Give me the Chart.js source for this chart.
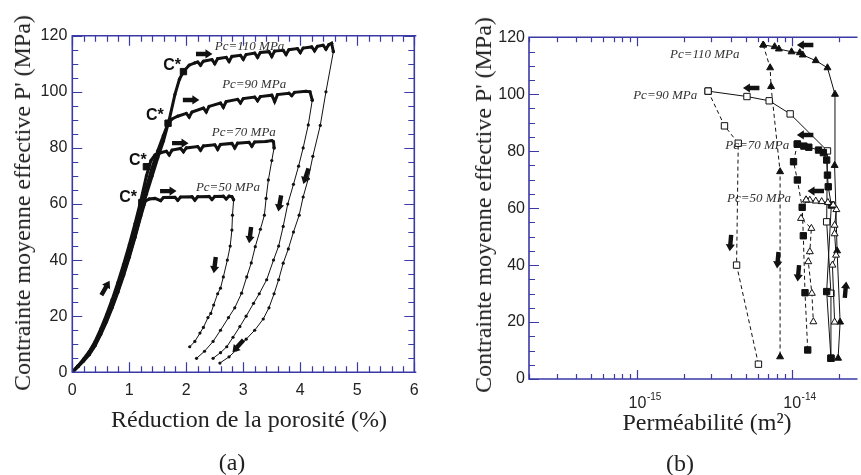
<!DOCTYPE html>
<html><head><meta charset="utf-8">
<script src="https://cdn.jsdelivr.net/npm/chart.js@4/dist/chart.umd.min.js"></script>
<style>
html,body{margin:0;padding:0;background:#fff;}
#wrap{position:relative;width:861px;height:475px;overflow:hidden;font-family:"Liberation Serif","Times New Roman",serif;color:#222;}
.cv{position:absolute;top:0;}
.t{position:absolute;white-space:nowrap;font-size:24px;line-height:1;transform:translate(-50%,-50%);}
.ty{transform:translate(-50%,-50%) rotate(-90deg);}
</style></head><body>
<div id="wrap">
<canvas id="ca" class="cv" width="430" height="475" style="left:0"></canvas>
<canvas id="cb" class="cv" width="431" height="475" style="left:430px"></canvas>
<div class="t ty" style="left:22px;top:203px">Contrainte moyenne effective P' (MPa)</div>
<div class="t ty" style="left:483px;top:205px">Contrainte moyenne effective P' (MPa)</div>
<div class="t" style="left:249px;top:419px">Réduction de la porosité (%)</div>
<div class="t" style="left:707px;top:422px">Perméabilité (m²)</div>
<div class="t" style="left:232px;top:462px">(a)</div>
<div class="t" style="left:680px;top:463px">(b)</div>
</div>
<script>
// ---------- Panel (a): porosity reduction (%) vs effective mean stress (MPa) ----------
const xTickValsA = [0,1,2,3,4,5,6];
const xTickLabelsA = ['0','1','2','3','4','5','6'];
const yTickVals = [0,20,40,60,80,100,120];
const yTickLabels = ['0','20','40','60','80','100','120'];

const porLoad50 = [0,0.1,0.2,0.3,0.4,0.5,0.6,0.7,0.8,0.9,1.0,1.1,1.2,1.28,1.35,1.45,1.55,1.6,1.8,1.85,1.9,2.1,2.15,2.2,2.4,2.45,2.5,2.65,2.7,2.75,2.8,2.83];
const strLoad50 = [0,2,4,6.3,9.5,13.5,18,23,28.5,34.5,41,48,55.5,61,61.8,62,61.2,62.3,62.4,61.3,62.5,62.6,61.4,62.6,62.7,61.6,62.7,62.8,61.8,62.8,62.6,61.5];
const porUnl50 = [2.83,2.81,2.80,2.77,2.72,2.65,2.60,2.55,2.48,2.43,2.38,2.30,2.24,2.15,2.06];
const strUnl50 = [61.5,56,50.7,45,40,34,30,28,24,21,19.5,16,14,11,9.1];

const porLoad70 = [0,0.1,0.2,0.3,0.4,0.5,0.6,0.7,0.8,0.9,1.0,1.1,1.2,1.3,1.38,1.45,1.55,1.65,1.7,1.75,1.9,1.95,2.0,2.2,2.25,2.3,2.5,2.55,2.6,2.8,2.85,2.9,3.1,3.15,3.2,3.4,3.5,3.53,3.54];
const strLoad70 = [0,2.3,4.8,7.5,11,15.5,20.5,26,32,38.5,45.5,53,61,70,75.5,77.5,78.3,78.8,77.5,79.2,79.8,78.6,80,80.5,79.2,80.7,81.1,79.5,81.2,81.6,80,81.7,82,80.6,82.1,82.3,82.6,82.2,80];
const porUnl70 = [3.54,3.50,3.44,3.40,3.37,3.30,3.21,3.14,3.06,2.97,2.85,2.74,2.60,2.47,2.32,2.18];
const strUnl70 = [80,75.5,68.6,62,56,51,44.8,39,34,28.2,23,19.5,15,11,7.5,5];

const porLoad90 = [0,0.1,0.2,0.3,0.4,0.5,0.6,0.7,0.8,0.9,1.0,1.1,1.2,1.3,1.4,1.5,1.6,1.68,1.75,1.85,2.0,2.05,2.1,2.3,2.35,2.4,2.6,2.65,2.7,2.9,2.95,3.0,3.2,3.25,3.3,3.5,3.55,3.6,3.8,3.85,3.9,4.1,4.17,4.21];
const strLoad90 = [0,2.2,4.6,7.2,10.5,14.8,19.6,25,31,37.5,44,51,58.5,66,73,79,84.5,88.8,90.3,91.3,92.3,91,92.8,94.2,92.8,94.8,96,94.5,96.5,97.3,96,97.6,98.1,96.8,98.3,98.8,96.5,99,99.5,98.6,99.8,100.2,100,97];
const porUnl90 = [4.21,4.14,4.05,3.97,3.88,3.78,3.70,3.62,3.53,3.41,3.28,3.18,3.05,2.94,2.82,2.71,2.60,2.47];
const strUnl90 = [97,88.2,80,73.5,67,60,52,45,40,33,28,24.6,20,16.3,12.5,9.1,7,5];

const porLoad110 = [0,0.1,0.2,0.3,0.4,0.5,0.6,0.7,0.8,0.9,1.0,1.1,1.2,1.3,1.4,1.5,1.6,1.7,1.8,1.88,1.95,2.05,2.15,2.2,2.25,2.3,2.45,2.5,2.55,2.7,2.75,2.8,2.95,3.0,3.05,3.2,3.25,3.3,3.45,3.5,3.55,3.7,3.75,3.8,3.95,4.0,4.05,4.2,4.25,4.3,4.4,4.45,4.5,4.55,4.58];
const strLoad110 = [0,2.1,4.4,6.9,10,14,18.5,23.5,29,35,41.5,48.5,56,63.5,70,76.5,82.5,90,99,104.5,107.2,109.5,110.3,110.6,109.5,110.9,111.5,110,111.8,112.3,110.8,112.6,113,111.6,113.3,113.8,112.3,114,114.3,112.6,114.5,114.8,113.3,115,115.4,114,115.6,116,114.6,116.2,116.6,115.2,116.8,117.3,114.3];
const porUnl110 = [4.58,4.45,4.35,4.22,4.14,4.05,3.98,3.88,3.79,3.70,3.62,3.54,3.45,3.35,3.20,3.05,2.88,2.75,2.59];
const strUnl110 = [114.3,100,88,77,69,62.5,56,50,44,38.9,33,28,23,19,15,11.8,8,5.5,3.3];

const cStarPor = [1.22,1.30,1.68,1.95];
const cStarStr = [60.5,73.3,88.8,107.2];
const cStarLabelX = [0.98,1.15,1.45,1.75];
const cStarLabelY = [62.2,75.4,91.4,109.2];

const pcLabels = ['Pc=110 MPa','Pc=90 MPa','Pc=70 MPa','Pc=50 MPa'];
const pcLabelXA = [3.11,3.19,3.01,2.73];
const pcLabelYA = [116.3,102.4,85.3,65.7];

const arrowXA = [2.31,2.08,1.89,1.68,2.50,3.12,3.64,4.10,2.91,0.58];
const arrowYA = [113.5,97.1,81.7,64.6,38.3,49,60.3,70,9.4,30];
const arrowDirA = [0,0,0,0,-97,-97,-100,-108,-132,60];

// ---------- Panel (b): permeability (m²) vs effective mean stress (MPa) ----------
const xTickValsB = [1e-15,1e-14];
const xTickBaseB = ['10','10'];
const xTickExpB = ['-15','-14'];

const kLoad110 = [1.98e-14,2.04e-14,1.95e-14,1.88e-14,1.89e-14,1.69e-14,1.42e-14,1.17e-14,1.12e-14,9.9e-15,8.2e-15,7.7e-15,6.5e-15];
const pLoad110 = [7.3,20,45,75,100,109.3,111.8,113.8,114.6,114.9,115.9,116.7,117.3];
const kUnl110 = [6.5e-15,7.2e-15,7.3e-15,8.35e-15,8.35e-15];
const pUnl110 = [117.3,109.3,102.7,72.8,7.8];
const kLoad90 = [1.78e-14,1.78e-14,1.67e-14,1.69e-14,9.7e-15,7.1e-15,5.1e-15,2.86e-15];
const pLoad90 = [7.3,30.1,55.2,80.1,93.1,97.7,99.2,101.1];
const kUnl90 = [2.86e-15,3.65e-15,4.48e-15,4.37e-15,6.05e-15];
const pUnl90 = [101.1,88.9,82.8,40,5.2];
const kLoad70 = [1.78e-14,1.67e-14,1.79e-14,1.71e-14,1.69e-14,1.67e-14,1.59e-14,1.48e-14,1.28e-14,1.19e-14,1.08e-14];
const pLoad70 = [7.3,30.7,61.1,67.5,71.6,76.9,79.5,80.4,81.4,81.8,82.5];
const kUnl70 = [1.08e-14,1.02e-14,1.08e-14,1.16e-14,1.18e-14,1.21e-14,1.26e-14];
const pUnl70 = [82.5,76.3,69.9,60.3,50.3,30.3,10.2];
const kLoad50 = [1.88e-14,1.82e-14,1.92e-14,1.88e-14,1.88e-14,1.93e-14,1.84e-14,1.7e-14,1.55e-14,1.42e-14,1.3e-14,1.23e-14];
const pLoad50 = [20,40,43.5,51,54,59.5,61.1,62,62.3,62.5,62.8,62.9];
const kUnl50 = [1.23e-14,1.14e-14,1.33e-14,1.30e-14,1.27e-14,1.34e-14,1.37e-14];
const pUnl50 = [62.9,56.4,52.9,44.7,41.2,30.1,20.1];

const pcLabelXB = [2.72e-15,1.51e-15,5.94e-15,6.11e-15];
const pcLabelYB = [114.1,99.7,82,63.4];

const arrowXB = [1.216e-14,5.45e-15,1.216e-14,1.425e-14,3.99e-15,8.07e-15,1.096e-14,2.21e-14];
const arrowYB = [117.3,102.2,85.7,66,47.8,41.8,37.2,31.3];
const arrowDirB = [180,180,180,180,-95,-95,-95,85];

// ---------- helpers ----------
const AXIS = '#3a3aa6';
const INK = '#111';
const TXT = '#222';
Chart.defaults.font.family = "'Liberation Sans', Arial, sans-serif";
Chart.defaults.color = TXT;

function zip(xs, ys){ return xs.map((v,i)=>({x:v, y:ys[i]})); }

function drawArrow(ctx, px, py, deg){
  ctx.save(); ctx.translate(px,py); ctx.rotate(-deg*Math.PI/180);
  ctx.fillStyle = INK; ctx.beginPath();
  ctx.moveTo(-8,-2.2); ctx.lineTo(1.5,-2.2); ctx.lineTo(1.5,-4.6); ctx.lineTo(8.5,0);
  ctx.lineTo(1.5,4.6); ctx.lineTo(1.5,2.2); ctx.lineTo(-8,2.2); ctx.closePath(); ctx.fill();
  ctx.restore();
}

function framePlugin(cfg){
  return {id:'frame', afterDatasetsDraw(chart){
    const {ctx, chartArea:a, scales:{x,y}} = chart;
    ctx.save(); ctx.strokeStyle = AXIS; ctx.lineWidth = 1.2; ctx.beginPath();
    for (const t of cfg.xTicks){
      const px = Math.round(x.getPixelForValue(t.v))+0.5;
      if (px < a.left-1 || px > a.right+1) continue;
      ctx.moveTo(px,a.bottom); ctx.lineTo(px,a.bottom-t.len);
      ctx.moveTo(px,a.top); ctx.lineTo(px,a.top+t.len);
    }
    for (const t of cfg.yTicks){
      const py = Math.round(y.getPixelForValue(t.v))+0.5;
      ctx.moveTo(a.left,py); ctx.lineTo(a.left+t.len,py);
      if (cfg.rightSide){ ctx.moveTo(a.right,py); ctx.lineTo(a.right-t.len,py); }
    }
    ctx.stroke();
    ctx.lineWidth = 1.6; ctx.beginPath();
    ctx.moveTo(a.right+2,a.top); ctx.lineTo(a.left,a.top); ctx.lineTo(a.left,a.bottom); ctx.lineTo(a.right+2,a.bottom);
    if (cfg.rightSide){ ctx.moveTo(a.right,a.top); ctx.lineTo(a.right,a.bottom); }
    ctx.stroke();
    ctx.restore();
  }};
}

function annotPlugin(cfg){
  return {id:'annot', afterDraw(chart){
    const {ctx, scales:{x,y}} = chart;
    ctx.save(); ctx.textAlign='center'; ctx.textBaseline='middle';
    for (const g of cfg.texts){
      ctx.font = g.font; ctx.fillStyle = g.color;
      g.labels.forEach((s,i)=>ctx.fillText(s, x.getPixelForValue(g.xs[i]), y.getPixelForValue(g.ys[i])));
    }
    cfg.arrows.xs.forEach((v,i)=>drawArrow(ctx, x.getPixelForValue(v), y.getPixelForValue(cfg.arrows.ys[i]), cfg.arrows.dirs[i]));
    if (cfg.logLabels){
      const L = cfg.logLabels;
      L.vals.forEach((v,i)=>{
        const px = x.getPixelForValue(v);
        const py = chart.chartArea.bottom + 25;
        ctx.font = "16px 'Liberation Sans', Arial, sans-serif"; ctx.fillStyle = TXT;
        ctx.textAlign='center'; ctx.fillText(L.base[i], px, py);
        const bw = ctx.measureText(L.base[i]).width;
        ctx.font = "10px 'Liberation Sans', Arial, sans-serif"; ctx.textAlign='left';
        ctx.fillText(L.exp[i], px + bw/2 + 0.5, py - 7);
      });
    }
    ctx.restore();
  }};
}

const baseOpts = {animation:false, responsive:false, devicePixelRatio:1, events:[],
  plugins:{legend:{display:false}, tooltip:{enabled:false}}};

// ---------- chart (a) ----------
const loadStyle = {showLine:true, borderColor:INK, backgroundColor:INK, borderWidth:3, pointRadius:1.6, pointBorderWidth:0, tension:0};
const unlStyle = {showLine:true, borderColor:INK, backgroundColor:INK, borderWidth:1, pointRadius:1.6, pointBorderWidth:0, tension:0};
const xMinorA = []; for (let i=0;i<=30;i++){ xMinorA.push({v:i*0.2, len:(i%5===0)?10:6}); }
const yMinorA = []; for (let i=0;i<=24;i++){ yMinorA.push({v:i*5, len:(i%4===0)?10:6}); }

new Chart(document.getElementById('ca'), {
  type:'scatter',
  data:{datasets:[
    {...loadStyle, data:zip(porLoad50,strLoad50)},
    {...unlStyle, data:zip(porUnl50,strUnl50)},
    {...loadStyle, data:zip(porLoad70,strLoad70)},
    {...unlStyle, data:zip(porUnl70,strUnl70)},
    {...loadStyle, data:zip(porLoad90,strLoad90)},
    {...unlStyle, data:zip(porUnl90,strUnl90)},
    {...loadStyle, data:zip(porLoad110,strLoad110)},
    {...unlStyle, data:zip(porUnl110,strUnl110)},
    {showLine:false, data:zip(cStarPor,cStarStr), pointStyle:'rect', pointRadius:4.5, backgroundColor:INK, borderColor:INK}
  ]},
  options:{...baseOpts,
    layout:{padding:{top:35.7,right:15.7,left:0,bottom:0}},
    scales:{
      x:{type:'linear', min:0, max:6,
         afterBuildTicks:s=>{s.ticks = xTickValsA.map(v=>({value:v}));},
         ticks:{font:{size:16}, color:TXT, padding:9, maxRotation:0, autoSkip:false, callback:(v,i)=>xTickLabelsA[i]},
         grid:{display:false, drawTicks:false}, border:{display:false},
         afterFit:s=>{s.height = 102.7;}},
      y:{type:'linear', min:0, max:120,
         afterBuildTicks:s=>{s.ticks = yTickVals.map(v=>({value:v}));},
         ticks:{font:{size:16}, color:TXT, padding:5, autoSkip:false, callback:(v,i)=>yTickLabels[i]},
         grid:{display:false, drawTicks:false}, border:{display:false},
         afterFit:s=>{s.width = 72.3;}}
    }
  },
  plugins:[framePlugin({xTicks:xMinorA, yTicks:yMinorA, rightSide:true}),
    annotPlugin({texts:[
      {font:"italic 13px 'Liberation Serif', serif", color:'#333', labels:pcLabels, xs:pcLabelXA, ys:pcLabelYA},
      {font:"bold 16px 'Liberation Sans', Arial, sans-serif", color:INK, labels:['C*','C*','C*','C*'], xs:cStarLabelX, ys:cStarLabelY}
    ], arrows:{xs:arrowXA, ys:arrowYA, dirs:arrowDirA}})]
});

// ---------- chart (b) ----------
const triFill = {pointStyle:'triangle', pointRadius:4, pointBackgroundColor:INK, pointBorderColor:INK, pointBorderWidth:1};
const triOpen = {pointStyle:'triangle', pointRadius:4, pointBackgroundColor:'#fff', pointBorderColor:INK, pointBorderWidth:1};
const sqFill = {pointStyle:'rect', pointRadius:4.5, pointBackgroundColor:INK, pointBorderColor:INK, pointBorderWidth:1};
const sqOpen = {pointStyle:'rect', pointRadius:4.5, pointBackgroundColor:'#fff', pointBorderColor:INK, pointBorderWidth:1};
const solid = {showLine:true, borderColor:INK, borderWidth:1, tension:0};
const dashed = {showLine:true, borderColor:INK, borderWidth:1, borderDash:[4,3], tension:0};
const xMinorB = []; for (let d=-16; d<=-14; d++){ for (let m=1;m<=9;m++){ xMinorB.push({v:m*Math.pow(10,d), len:(m===1)?9:5}); } }
const yMinorB = []; for (let i=0;i<=24;i++){ yMinorB.push({v:i*5, len:(i%4===0)?10:6}); }

new Chart(document.getElementById('cb'), {
  type:'scatter',
  data:{datasets:[
    {...solid, ...triOpen, data:zip(kLoad50,pLoad50)},
    {...dashed, ...triOpen, data:zip(kUnl50,pUnl50)},
    {...solid, ...sqFill, data:zip(kLoad70,pLoad70)},
    {...dashed, ...sqFill, data:zip(kUnl70,pUnl70)},
    {...solid, ...sqOpen, data:zip(kLoad90,pLoad90)},
    {...dashed, ...sqOpen, data:zip(kUnl90,pUnl90)},
    {...solid, ...triFill, data:zip(kLoad110,pLoad110)},
    {...dashed, ...triFill, data:zip(kUnl110,pUnl110)}
  ]},
  options:{...baseOpts,
    layout:{padding:{top:37.3,right:0,left:0,bottom:0}},
    scales:{
      x:{type:'logarithmic', min:1.99e-16, max:2.565e-14,
         afterBuildTicks:s=>{s.ticks = xTickValsB.map(v=>({value:v}));},
         ticks:{display:false},
         grid:{display:false, drawTicks:false}, border:{display:false},
         afterFit:s=>{s.height = 96;}},
      y:{type:'linear', min:0, max:120,
         afterBuildTicks:s=>{s.ticks = yTickVals.map(v=>({value:v}));},
         ticks:{font:{size:16}, color:TXT, padding:4, autoSkip:false, callback:(v,i)=>yTickLabels[i]},
         grid:{display:false, drawTicks:false}, border:{display:false},
         afterFit:s=>{s.width = 99;}}
    }
  },
  plugins:[framePlugin({xTicks:xMinorB, yTicks:yMinorB, rightSide:false}),
    annotPlugin({texts:[
      {font:"italic 13px 'Liberation Serif', serif", color:'#333', labels:pcLabels, xs:pcLabelXB, ys:pcLabelYB}
    ], arrows:{xs:arrowXB, ys:arrowYB, dirs:arrowDirB},
    logLabels:{vals:xTickValsB, base:xTickBaseB, exp:xTickExpB}})]
});
</script>
</body></html>
